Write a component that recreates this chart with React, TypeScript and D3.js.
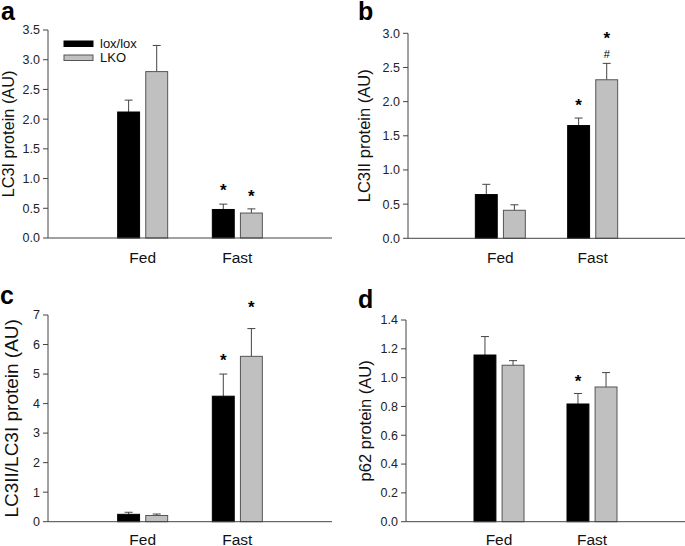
import React from "react";
import * as d3 from "d3";

const groups = ["Fed", "Fast"];
const series = ["lox/lox", "LKO"];
const seriesColors = ["#000000", "#c0c0c0"];

// Panel a: LC3I
const aMeans = [[2.12, 0.48], [2.8, 0.42]];
const aErr = [[2.32, 0.57], [3.24, 0.49]];
const aStars = [[null, 0.85], [null, 0.76]];
const aTicks = [0, 0.5, 1, 1.5, 2, 2.5, 3, 3.5];

// Panel b: LC3II
const bMeans = [[0.64, 1.65], [0.41, 2.32]];
const bErr = [[0.79, 1.76], [0.49, 2.56]];
const bStars = [[null, 2.0], [null, 2.97]];
const bHash = [[null, null], [null, 2.7]];
const bTicks = [0, 0.5, 1, 1.5, 2, 2.5, 3];

// Panel c: LC3II/LC3I
const cMeans = [[0.25, 4.25], [0.21, 5.6]];
const cErr = [[0.32, 5.0], [0.26, 6.54]];
const cStars = [[null, 5.57], [null, 7.38]];
const cTicks = [0, 1, 2, 3, 4, 5, 6, 7];

// Panel d: p62
const dMeans = [[1.157, 0.817], [1.086, 0.935]];
const dErr = [[1.285, 0.89], [1.118, 1.035]];
const dStars = [[null, 1.0], [null, null]];
const dTicks = [0, 0.2, 0.4, 0.6, 0.8, 1.0, 1.2, 1.4];

const FONT = "'Liberation Sans', Arial, sans-serif";

type PanelProps = {
  letter: string;
  letterX: number;
  letterY: number;
  axisX: number;
  xEnd: number;
  yTop: number;
  yZero: number;
  catY: number;
  ticks: number[];
  fmt: (v: number) => string;
  means: number[][];
  errs: number[][];
  stars: (number | null)[][];
  hashes?: (number | null)[][];
  label: string;
  labelX: number;
  labelSize: number;
  legend?: boolean;
};

function Panel(p: PanelProps) {
  const y = d3.scaleLinear().domain([0, p.ticks[p.ticks.length - 1]]).range([p.yZero, p.yTop]);
  const x = d3.scalePoint<string>().domain(groups).range([p.axisX, p.xEnd]).padding(1);
  const xs = d3.scaleBand<string>().domain(series).range([-25, 25]).paddingInner(0.22);
  const bw = xs.bandwidth();
  const axisCol = "#444";
  const labelCenter = (p.yTop + p.yZero) / 2;
  return (
    <g>
      <text x={p.letterX} y={p.letterY} fontFamily={FONT} fontWeight="bold" fontSize={25}>
        {p.letter}
      </text>
      {/* y axis */}
      <line x1={p.axisX} x2={p.axisX} y1={p.yTop} y2={p.yZero} stroke={axisCol} strokeWidth={1} />
      {p.ticks.map((t) => (
        <g key={t}>
          <line x1={p.axisX - 5} x2={p.axisX} y1={y(t)} y2={y(t)} stroke={axisCol} strokeWidth={1} />
          <text
            x={p.axisX - 8}
            y={y(t)}
            dy="0.35em"
            textAnchor="end"
            fontFamily={FONT}
            fontSize={12.5}
            fill="#222"
          >
            {p.fmt(t)}
          </text>
        </g>
      ))}
      {/* bars */}
      {series.map((s, si) =>
        groups.map((g, gi) => {
          const cx = (x(g) as number) + (xs(s) as number);
          const v = p.means[si][gi];
          const e = p.errs[si][gi];
          const mid = cx + bw / 2;
          const star = p.stars[si][gi];
          const hash = p.hashes ? p.hashes[si][gi] : null;
          return (
            <g key={s + g}>
              <line x1={mid} x2={mid} y1={y(v)} y2={y(e)} stroke={axisCol} strokeWidth={1} />
              <line x1={mid - 4} x2={mid + 4} y1={y(e)} y2={y(e)} stroke={axisCol} strokeWidth={1} />
              <rect
                x={cx}
                y={y(v)}
                width={bw}
                height={p.yZero - y(v)}
                fill={seriesColors[si]}
                stroke={si === 0 ? "#000" : "#555"}
                strokeWidth={1}
              />
              {star !== null && (
                <text x={mid} y={y(star) + 9} textAnchor="middle" fontFamily={FONT} fontWeight="bold" fontSize={17}>
                  *
                </text>
              )}
              {hash !== null && hash !== undefined && (
                <text x={mid} y={y(hash) + 4} textAnchor="middle" fontFamily={FONT} fontSize={11}>
                  #
                </text>
              )}
            </g>
          );
        })
      )}
      {/* x axis */}
      <line x1={p.axisX} x2={p.xEnd} y1={p.yZero} y2={p.yZero} stroke={axisCol} strokeWidth={1} />
      {groups.map((g) => (
        <text
          key={g}
          x={x(g) as number}
          y={p.catY}
          textAnchor="middle"
          fontFamily={FONT}
          fontSize={15.5}
          fill="#111"
        >
          {g}
        </text>
      ))}
      <text
        transform={`translate(${p.labelX},${labelCenter}) rotate(-90)`}
        textAnchor="middle"
        fontFamily={FONT}
        fontSize={p.labelSize}
        fill="#111"
      >
        {p.label}
      </text>
      {p.legend &&
        series.map((s, si) => (
          <g key={s}>
            <rect
              x={64}
              y={41 + si * 14}
              width={29}
              height={5.5}
              fill={seriesColors[si]}
              stroke={si === 0 ? "#000" : "#555"}
              strokeWidth={1}
            />
            <text x={100} y={43.5 + si * 14} dy="0.35em" fontFamily={FONT} fontSize={13} fill="#111">
              {s}
            </text>
          </g>
        ))}
    </g>
  );
}

export default function App() {
  const f1 = (v: number) => v.toFixed(1);
  const f0 = (v: number) => v.toFixed(0);
  return (
    <svg
      width={685}
      height={546}
      style={{ position: "absolute", left: 0, top: 0, background: "#fff" }}
    >
      <rect width={685} height={546} fill="#fff" />
      <Panel
        letter="a" letterX={1} letterY={19.5}
        axisX={48} xEnd={332} yTop={30} yZero={238} catY={263}
        ticks={aTicks} fmt={f1}
        means={aMeans} errs={aErr} stars={aStars}
        label="LC3I protein (AU)" labelX={13.5} labelSize={16.3}
        legend
      />
      <Panel
        letter="b" letterX={358} letterY={19.5}
        axisX={408} xEnd={685} yTop={33.3} yZero={238.3} catY={263}
        ticks={bTicks} fmt={f1}
        means={bMeans} errs={bErr} stars={bStars} hashes={bHash}
        label="LC3II protein (AU)" labelX={370} labelSize={16.5}
      />
      <Panel
        letter="c" letterX={0} letterY={304}
        axisX={48} xEnd={332} yTop={315} yZero={521.7} catY={544.5}
        ticks={cTicks} fmt={f0}
        means={cMeans} errs={cErr} stars={cStars}
        label="LC3II/LC3I protein (AU)" labelX={18} labelSize={19}
      />
      <Panel
        letter="d" letterX={358} letterY={308}
        axisX={406} xEnd={685} yTop={320} yZero={521.7} catY={544.5}
        ticks={dTicks} fmt={f1}
        means={dMeans} errs={dErr} stars={dStars}
        label="p62 protein (AU)" labelX={371} labelSize={16.5}
      />
    </svg>
  );
}
